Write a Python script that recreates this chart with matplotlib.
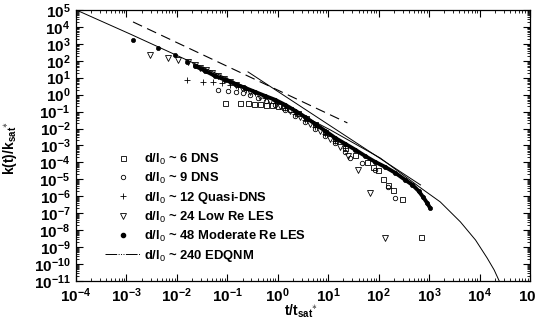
import numpy as np
import matplotlib
matplotlib.use('Agg')
import matplotlib.pyplot as plt
from matplotlib.lines import Line2D
from matplotlib.legend_handler import HandlerLine2D
from matplotlib.ticker import LogLocator, FixedLocator, FuncFormatter, NullFormatter

plt.rcParams['font.family'] = ['Liberation Sans', 'DejaVu Sans']
plt.rcParams['mathtext.fontset'] = 'custom'
plt.rcParams['mathtext.rm'] = 'Liberation Sans'
plt.rcParams['mathtext.it'] = 'Liberation Sans:italic'
plt.rcParams['mathtext.bf'] = 'Liberation Sans:bold'

# values, as log10(t/t_sat*) and log10(k/k_sat*)
dns6_lt = [-1.04, -0.75, -0.59, -0.47, -0.35, -0.23, -0.11, 0.01, 0.13, 0.25, 0.40, 0.56,
           0.74, 0.94, 1.14, 1.34, 1.54, 1.77, 1.89, 1.99, 2.09, 2.19, 2.29, 2.47, 2.83]
dns6_lk = [-0.49, -0.49, -0.49, -0.55, -0.55, -0.61, -0.61, -0.67, -0.73, -0.84, -1.08, -1.38,
           -1.73, -2.20, -2.67, -3.15, -3.56, -3.97, -4.27, -4.44, -4.98, -5.33, -5.63, -6.16, -8.40]

dns9_lt = [-1.18, -0.98, -0.83, -0.69, -0.55, -0.39, -0.23, -0.05, 0.15, 0.35, 0.54, 0.74,
           0.94, 1.14, 1.34, 1.44, 1.67, 1.93, 2.19, 2.33]
dns9_lk = [0.28, 0.22, 0.16, 0.10, -0.02, -0.19, -0.37, -0.61, -0.90, -1.26, -1.61, -2.02,
           -2.44, -2.85, -3.38, -3.74, -4.03, -4.44, -5.45, -6.10]

qdns12_lt = [-1.80, -1.48, -1.28, -1.10, -0.94, -0.79, -0.63, -0.45, -0.25, -0.05, 0.15, 0.35,
             0.54, 0.74, 0.94, 1.14, 1.34]
qdns12_lk = [0.87, 0.75, 0.75, 0.69, 0.57, 0.45, 0.28, 0.10, -0.19, -0.49, -0.79, -1.14,
             -1.49, -1.91, -2.32, -2.73, -3.15]

les24_lt = [-2.53, -2.17, -1.98, -1.78, -1.64, -1.54, -1.42, -1.30, -1.18, -1.06, -0.94, -0.83,
            -0.71, -0.55, -0.35, -0.15, 0.05, 0.25, 0.44, 0.64, 0.84, 1.04, 1.24, 1.40, 1.60,
            1.83, 2.13]
les24_lk = [2.34, 2.17, 2.05, 1.93, 1.75, 1.58, 1.46, 1.28, 1.10, 0.93, 0.75, 0.57,
            0.40, 0.16, -0.14, -0.37, -0.67, -0.96, -1.32, -1.73, -2.14, -2.62, -3.09, -3.62, -4.44,
            -5.80, -8.46]

les48_lt = [-2.87, -2.37, -2.04, -1.80, -1.64, -1.44, -1.24, -1.04, -0.85, -0.65, -0.45, -0.25,
            -0.05, 0.15, 0.35, 0.54, 0.74, 0.94, 1.14, 1.34, 1.54, 1.73, 1.93, 2.13, 2.33, 2.53,
            2.67, 2.79, 2.88, 2.96, 3.02]
les48_lk = [3.23, 2.76, 2.34, 1.93, 1.69, 1.40, 1.10, 0.87, 0.63, 0.40, 0.16, -0.08,
            -0.31, -0.61, -0.96, -1.32, -1.73, -2.14, -2.56, -2.91, -3.26, -3.62, -3.97, -4.27,
            -4.62, -5.04, -5.33, -5.68, -6.04, -6.39, -6.69]
dense_from = 4  # the LES-48 points merge into a solid band from here on

edqnm_lt = [-4.00, -2.93, -1.94, -0.94, 0.05, 1.04, 2.03, 2.83, 3.22, 3.62, 3.92, 4.15, 4.29, 4.39]
edqnm_lk = [5.00, 3.58, 2.23, 0.87, -0.55, -2.08, -3.74, -5.50, -6.33, -7.51, -8.58, -9.64,
            -10.35, -11.0]

# reference power laws
steep_lt = [-0.59, 2.83]
steep_lk = [1.34, -5.33]
dash_lt = [-2.87, 1.38]
dash_lk = [4.29, -1.67]

labels = [r'd/l$_0$ ~ 6 DNS', r'd/l$_0$ ~ 9 DNS', r'd/l$_0$ ~ 12 Quasi-DNS',
          r'd/l$_0$ ~ 24 Low Re LES', r'd/l$_0$ ~ 48 Moderate Re LES', r'd/l$_0$ ~ 240 EDQNM']


def p10(v):
    return 10.0 ** np.asarray(v)


class RightMarker(HandlerLine2D):
    """Put the single legend marker near the right end of the handle."""
    def get_xdata(self, legend, xdescent, ydescent, width, height, fontsize):
        xd, xm = super().get_xdata(legend, xdescent, ydescent, width, height, fontsize)
        return xd, [-xdescent + 0.85 * width]


fig = plt.figure(figsize=(5.36, 3.22), dpi=100)
ax = fig.add_axes([0.1418, 0.1273, 0.847, 0.842])

mk = dict(ls='none', color='k', mfc='none', mew=0.6)
ax.plot(p10(dns6_lt), p10(dns6_lk), marker='s', ms=3.6, **mk)
ax.plot(p10(dns9_lt), p10(dns9_lk), marker='o', ms=3.2, **mk)
ax.plot(p10(qdns12_lt), p10(qdns12_lk), marker='+', ms=4.5, **mk)
ax.plot(p10(les24_lt), p10(les24_lk), marker='v', ms=4.6, **mk)
ax.plot(p10(les48_lt), p10(les48_lk), ls='none', color='k', marker='o', ms=3, mfc='k', mew=0.5)
ax.plot(p10(les48_lt[dense_from:]), p10(les48_lk[dense_from:]), color='k', lw=2.8,
        solid_capstyle='round')
ax.plot(p10(edqnm_lt), p10(edqnm_lk), color='k', lw=0.7)
ax.plot(p10(steep_lt), p10(steep_lk), color='k', lw=0.7)
ax.plot(p10(dash_lt), p10(dash_lk), color='k', lw=0.8, dashes=(9, 5))

ax.set_xscale('log')
ax.set_yscale('log')
ax.set_xlim(1e-4, 1e5)
ax.set_ylim(1e-11, 1e5)

ax.xaxis.set_major_locator(FixedLocator(10.0 ** np.arange(-4, 6)))
ax.yaxis.set_major_locator(FixedLocator(10.0 ** np.arange(-11, 6)))
ax.xaxis.set_minor_locator(LogLocator(base=10, subs=np.arange(2, 10), numticks=30))
ax.yaxis.set_minor_locator(LogLocator(base=10, subs=np.arange(2, 10), numticks=30))
fmt = FuncFormatter(lambda v, pos: r'$\mathbf{10^{%d}}$' % int(round(np.log10(v))))
ax.xaxis.set_major_formatter(fmt)
ax.yaxis.set_major_formatter(fmt)
ax.xaxis.set_minor_formatter(NullFormatter())
ax.yaxis.set_minor_formatter(NullFormatter())
ax.tick_params(which='both', direction='in', top=True, right=True, labelsize=11, pad=4)
ax.tick_params(which='major', length=5, width=0.8)
ax.tick_params(which='minor', length=2.5, width=0.6)
for s in ax.spines.values():
    s.set_linewidth(0.9)

ax.set_xlabel(r'$\mathbf{t/t_{sat}}^{\ast}$', fontsize=10)
ax.xaxis.set_label_coords(0.495, -0.08)
ax.set_ylabel(r'$\mathbf{k(t)/k_{sat}}^{\ast}$', fontsize=10)
ax.yaxis.set_label_coords(-0.125, 0.49)

handles = [
    Line2D([], [], ls='none', marker='s', ms=3.6, color='k', mfc='none', mew=0.6),
    Line2D([], [], ls='none', marker='o', ms=3.2, color='k', mfc='none', mew=0.6),
    Line2D([], [], ls='none', marker='+', ms=4.5, color='k', mew=0.6),
    Line2D([], [], ls='none', marker='v', ms=4.6, color='k', mfc='none', mew=0.6),
    Line2D([], [], ls='none', marker='o', ms=3, color='k', mfc='k'),
    Line2D([], [], color='k', lw=0.7, dashes=(12, 1.5, 1, 1.5, 1, 1.5, 1, 1.5)),
]
hm = {h: RightMarker(numpoints=1) for h in handles[:5]}
leg = ax.legend(handles, labels, loc='upper left', bbox_to_anchor=(0.05, 0.5),
                frameon=False, handlelength=2.7, handletextpad=0.3,
                labelspacing=0.3, borderpad=0, handler_map=hm,
                prop={'weight': 'bold', 'size': 9.4})

fig.savefig('out.png', dpi=100)
